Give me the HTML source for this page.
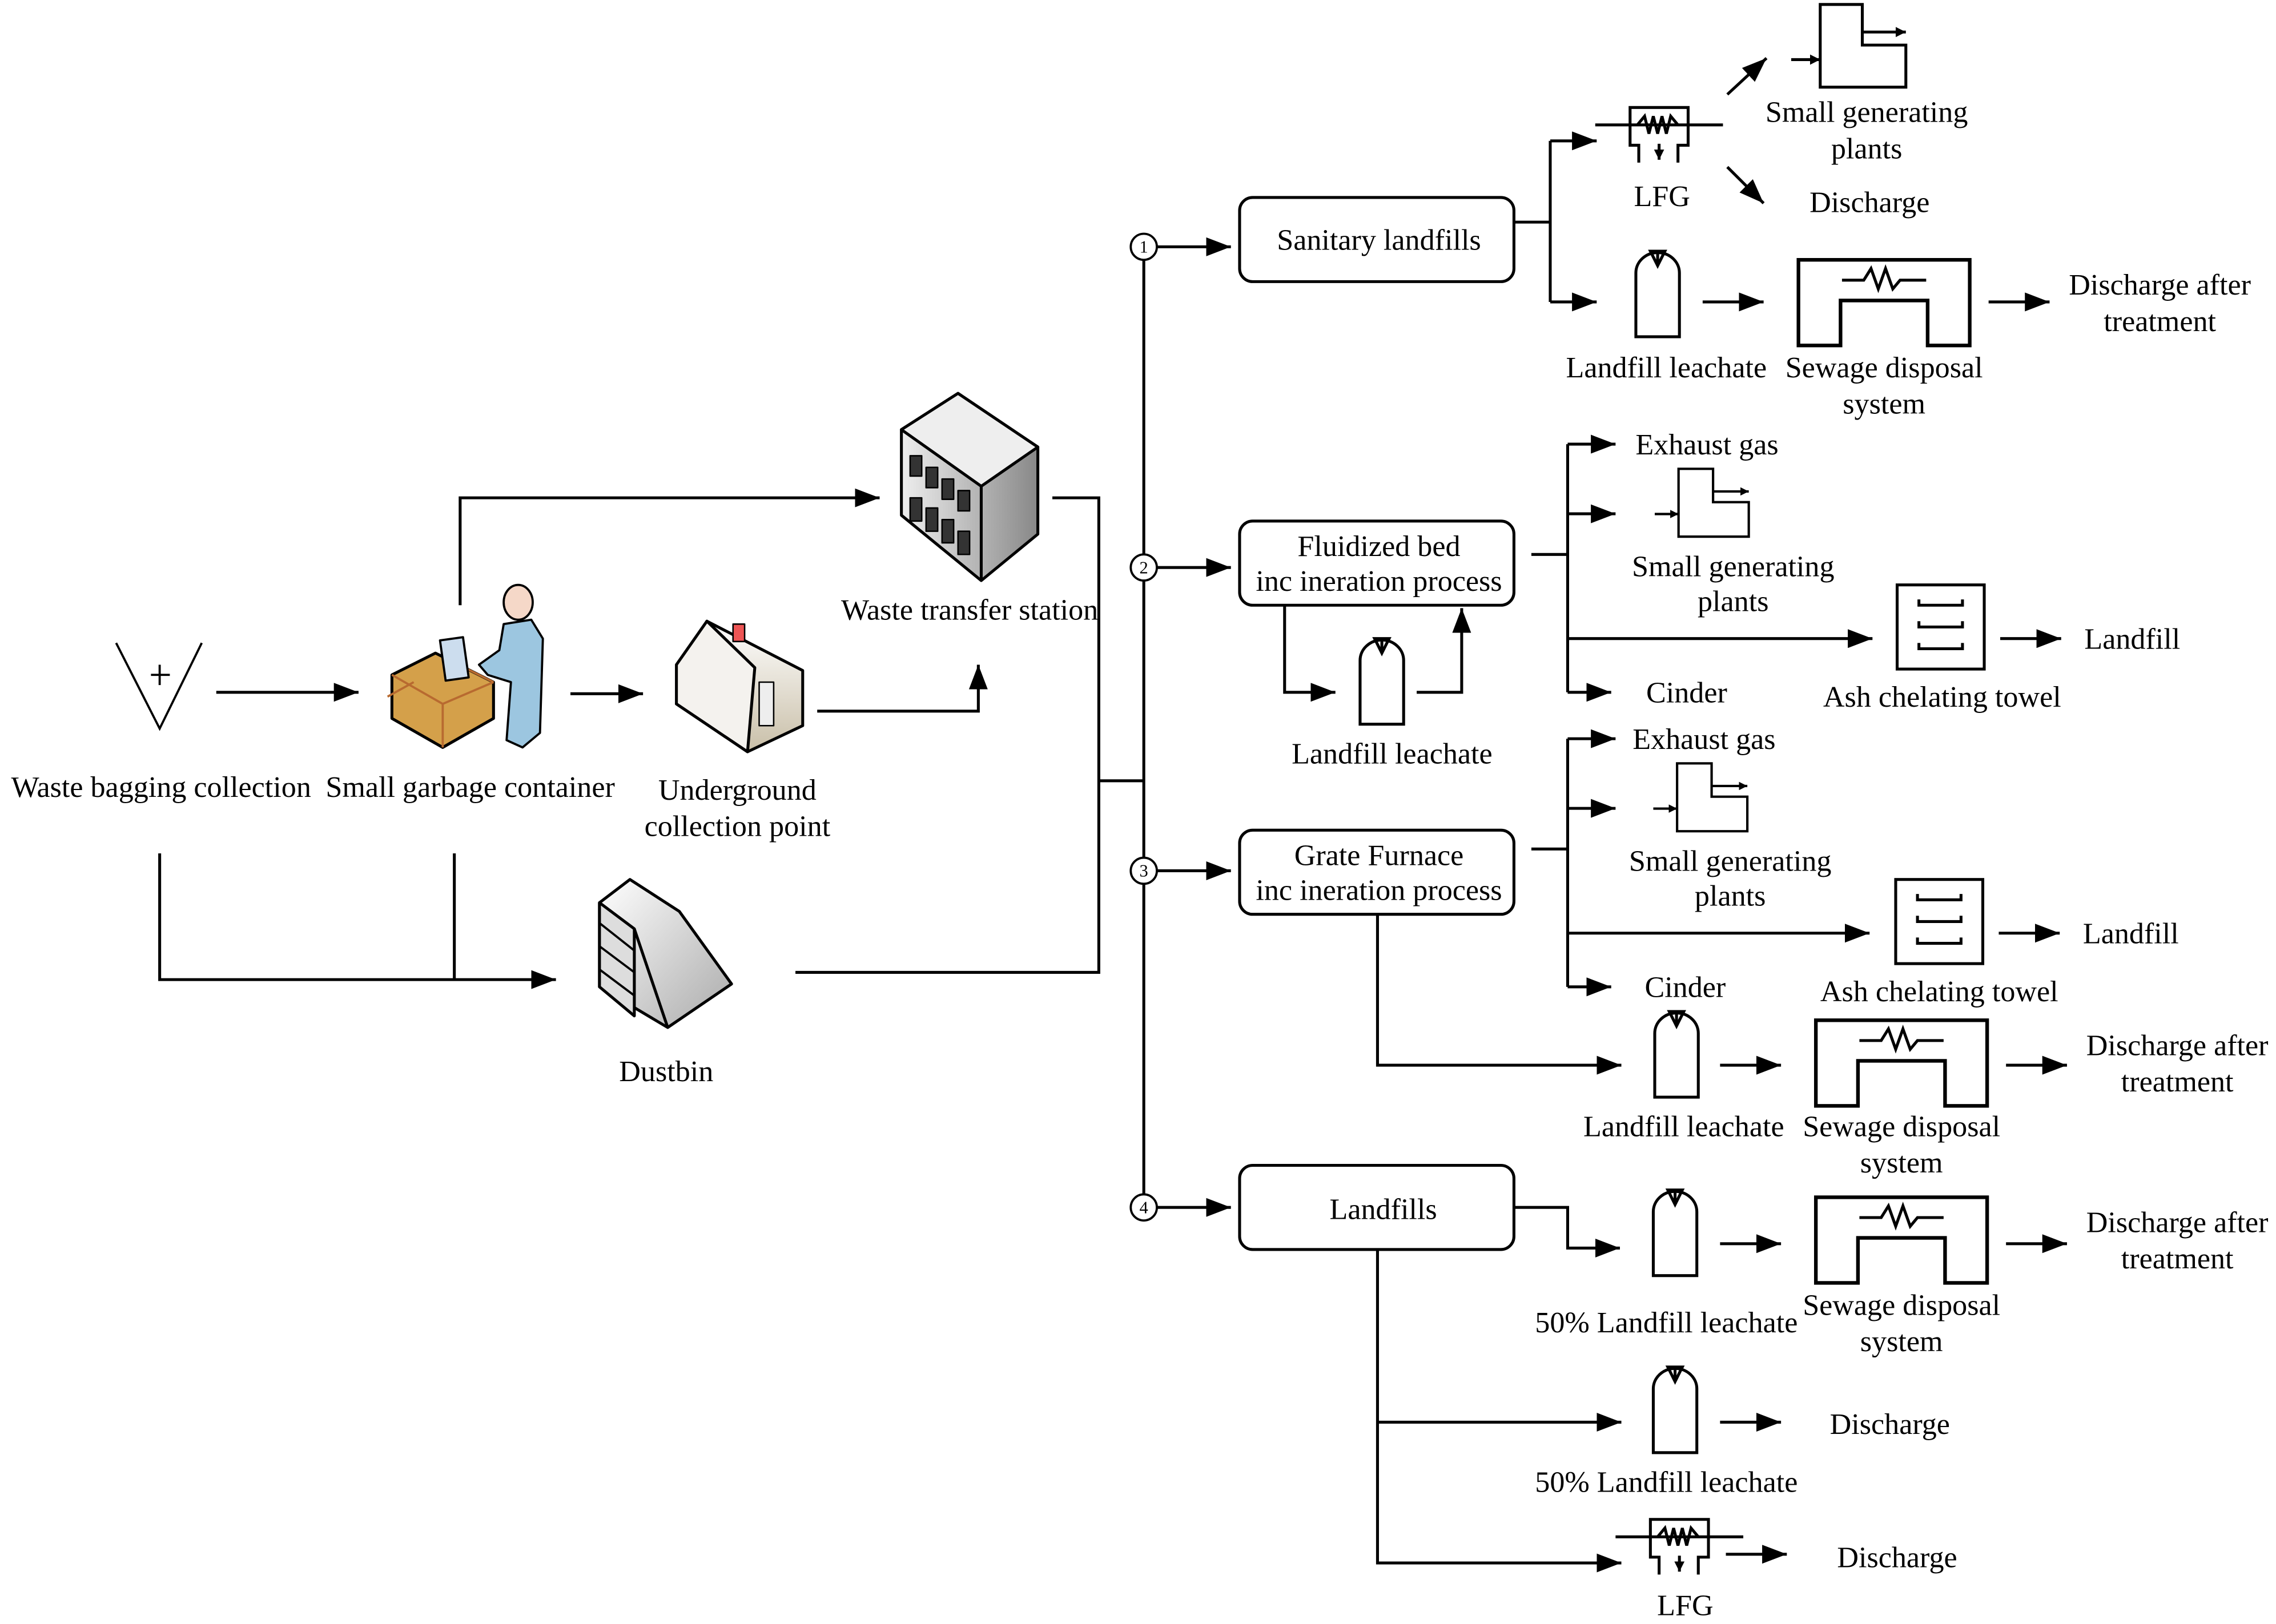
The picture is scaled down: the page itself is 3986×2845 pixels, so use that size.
<!DOCTYPE html>
<html><head><meta charset="utf-8"><style>
html,body{margin:0;padding:0;background:#fff;}
svg{display:block;}
text{font-family:"Liberation Serif",serif;font-size:20.5px;fill:#000;text-anchor:middle;}
</style></head><body>
<svg width="3986" height="2845" viewBox="0 0 1568 1119" xmlns="http://www.w3.org/2000/svg">
<defs>
<marker id="a" viewBox="0 0 10 10" refX="10" refY="5" markerWidth="7" markerHeight="7" markerUnits="userSpaceOnUse" orient="auto"><path d="M0,0L10,5L0,10z" fill="#000"/></marker>
<marker id="A" viewBox="0 0 10 10" refX="10" refY="5" markerWidth="17" markerHeight="13" markerUnits="userSpaceOnUse" orient="auto" preserveAspectRatio="none"><path d="M0,0L10,5L0,10z" fill="#000"/></marker>
<linearGradient id="g1" x1="0" y1="0" x2="1" y2="1"><stop offset="0" stop-color="#fff"/><stop offset="1" stop-color="#aaa"/></linearGradient>
<linearGradient id="g2" x1="0" y1="0" x2="1" y2="0"><stop offset="0" stop-color="#eee"/><stop offset="1" stop-color="#888"/></linearGradient>
<linearGradient id="g3" x1="0" y1="0" x2="0" y2="1"><stop offset="0" stop-color="#fff"/><stop offset="1" stop-color="#c9bfa8"/></linearGradient>
<g id="bottle" fill="none" stroke="#000" stroke-width="2"><path d="M0,59V15A15,14 0 0 1 30,15V59Z" fill="#fff"/><path d="M10,0H20L15,10Z M15,10V1"/></g>
<g id="sew" fill="none" stroke="#000" stroke-width="2.5"><path d="M0,59V0H118V59H89V28H29V59Z" fill="#fff"/><path d="M30,14H45L50,6L55,20L60,6L65,20L70,14H88" stroke-width="2"/></g>
<g id="gen" fill="none" stroke="#000" stroke-width="2"><path d="M20,0H49V28H79V57H20Z" fill="#fff"/><path d="M49,19H79" marker-end="url(#a)"/><path d="M0,38H20" marker-end="url(#a)"/></g>
<g id="ash" fill="none" stroke="#000" stroke-width="2"><rect x="0" y="0" width="60" height="58" fill="#fff"/><path d="M15,10V14H45V10M15,25V29H45V25M15,40V44H45V40"/></g>
<g id="lfg" fill="none" stroke="#000" stroke-width="2"><path d="M6,38V26H0V0H40V26H33V38" fill="#fff"/><path d="M-24,12H64"/><path d="M5,12L10,6L13,18L16,6L19,18L22,6L25,18L28,6L33,12"/><path d="M20,25V36" marker-end="url(#a)"/></g>
</defs>
<g fill="none" stroke="#000" stroke-width="2">
<path d="M80,443L110,502L139,443" stroke-width="1.5"/><path d="M104,465H117M110,458V472" stroke-width="1.5"/>
<path d="M149,477H247" marker-end="url(#A)"/>
<path d="M393,478H443" marker-end="url(#A)"/>
<path d="M563,490H674V458" marker-end="url(#A)"/>
<path d="M317,417V343H606" marker-end="url(#A)"/>
<path d="M725,343H757V670H548"/>
<path d="M757,538H788"/>
<path d="M110,588V675H383" marker-end="url(#A)"/><path d="M313,588V675"/>
<path d="M788,170V832"/>
<path d="M797,170H848" marker-end="url(#A)"/><path d="M797,391H848" marker-end="url(#A)"/>
<path d="M797,600H848" marker-end="url(#A)"/><path d="M797,832H848" marker-end="url(#A)"/>
<rect x="854" y="136" width="189" height="58" rx="9"/>
<rect x="854" y="359" width="189" height="58" rx="9"/>
<rect x="854" y="572" width="189" height="58" rx="9"/>
<rect x="854" y="803" width="189" height="58" rx="9"/>
<path d="M1043,153H1068M1068,97V208"/>
<path d="M1068,97H1100" marker-end="url(#A)"/><path d="M1068,208H1100" marker-end="url(#A)"/>
<path d="M1190,65L1217,40" marker-end="url(#A)"/><path d="M1190,115L1215,140" marker-end="url(#A)"/>
<path d="M1173,208H1215" marker-end="url(#A)"/><path d="M1370,208H1412" marker-end="url(#A)"/>
<path d="M1055,382H1080M1080,306V477"/>
<path d="M1080,306H1113" marker-end="url(#A)"/><path d="M1080,354H1113" marker-end="url(#A)"/>
<path d="M1080,440H1290" marker-end="url(#A)"/><path d="M1080,477H1110" marker-end="url(#A)"/>
<path d="M1378,440H1420" marker-end="url(#A)"/>
<path d="M885,417V477H920" marker-end="url(#A)"/><path d="M976,477H1007V419" marker-end="url(#A)"/>
<path d="M1055,585H1080M1080,509V680"/>
<path d="M1080,509H1113" marker-end="url(#A)"/><path d="M1080,557H1113" marker-end="url(#A)"/>
<path d="M1080,643H1288" marker-end="url(#A)"/><path d="M1080,680H1110" marker-end="url(#A)"/>
<path d="M1377,643H1419" marker-end="url(#A)"/>
<path d="M949,630V734H1117" marker-end="url(#A)"/>
<path d="M1185,734H1227" marker-end="url(#A)"/><path d="M1382,734H1424" marker-end="url(#A)"/>
<path d="M1043,832H1080V860H1116" marker-end="url(#A)"/>
<path d="M1185,857H1227" marker-end="url(#A)"/><path d="M1382,857H1424" marker-end="url(#A)"/>
<path d="M949,861V1077H1117" marker-end="url(#A)"/><path d="M949,980H1117" marker-end="url(#A)"/>
<path d="M1185,980H1227" marker-end="url(#A)"/><path d="M1189,1071H1231" marker-end="url(#A)"/>
</g>
<g fill="#fff" stroke="#000" stroke-width="1.5">
<circle cx="788" cy="170" r="9"/><circle cx="788" cy="391" r="9"/><circle cx="788" cy="600" r="9"/><circle cx="788" cy="832" r="9"/>
</g>
<g style="font-size:12px"><text x="788" y="174" style="font-size:12px">1</text><text x="788" y="395" style="font-size:12px">2</text><text x="788" y="604" style="font-size:12px">3</text><text x="788" y="836" style="font-size:12px">4</text></g>
<use href="#lfg" x="1123" y="74"/>
<use href="#gen" x="1234" y="3"/>
<use href="#bottle" x="1127" y="173"/>
<use href="#sew" x="1239" y="179"/>
<use href="#gen" transform="translate(1140,323) scale(0.82)"/>
<use href="#ash" x="1307" y="403"/>
<use href="#bottle" x="937" y="440"/>
<use href="#gen" transform="translate(1139,526) scale(0.82)"/>
<use href="#ash" x="1306" y="606"/>
<use href="#bottle" x="1140" y="697"/>
<use href="#sew" x="1251" y="703"/>
<use href="#bottle" x="1139" y="820"/>
<use href="#sew" x="1251" y="825"/>
<use href="#bottle" x="1139" y="942"/>
<use href="#lfg" x="1137" y="1047"/>
<g stroke="#000" stroke-width="2" stroke-linejoin="round">
<path d="M621,296L660,271L715,308V368L676,400L621,355Z" fill="url(#g2)"/>
<path d="M621,296L660,271L715,308L676,335Z" fill="#eee"/>
<path d="M676,335V400" fill="none"/>
<g fill="#333" stroke-width="1"><rect x="627" y="314" width="8" height="14"/><rect x="638" y="322" width="8" height="14"/><rect x="649" y="330" width="8" height="14"/><rect x="660" y="338" width="8" height="14"/><rect x="627" y="343" width="8" height="16"/><rect x="638" y="350" width="8" height="16"/><rect x="649" y="358" width="8" height="16"/><rect x="660" y="366" width="8" height="16"/></g>
<path d="M470,460L487,428L553,462V500L515,518L466,485Z" fill="url(#g3)"/>
<path d="M487,428L520,460L515,518L466,485V458Z" fill="#f4f2ee"/>
<rect x="505" y="430" width="8" height="12" fill="#e55" stroke-width="1"/>
<rect x="523" y="470" width="10" height="30" fill="#eee" stroke-width="1"/>
<path d="M413,622L434,606L468,628L504,678L460,708L413,680Z" fill="url(#g1)"/>
<path d="M413,622V680L437,700V640Z" fill="#ddd"/>
<path d="M437,640L460,708" fill="none"/>
<path d="M413,636L437,655M413,652L437,670M413,668L437,686" fill="none" stroke-width="1.5"/>
<path d="M270,465L300,450L340,470L340,495L305,515L270,495Z" fill="#d4a04a"/>
<path d="M270,465L305,485L340,470M305,485V515" fill="none" stroke="#b86a30" stroke-width="1.5"/>
<path d="M267,480L285,470M320,460L340,470" fill="none" stroke="#b86a30" stroke-width="1.5"/>
<rect x="305" y="440" width="16" height="28" fill="#cde" stroke-width="1.5" transform="rotate(-8 313 454)"/>
<ellipse cx="357" cy="415" rx="10" ry="12" fill="#f5d8c8" stroke-width="1.5"/>
<path d="M347,430L366,427L374,440L372,505L360,515L349,510L352,470L336,465L330,458L344,448Z" fill="#9cc6e0" stroke-width="1.5"/>
</g>
<text x="111" y="549">Waste bagging collection</text>
<text x="324" y="549">Small garbage container</text>
<text x="508" y="551">Underground</text><text x="508" y="576">collection point</text>
<text x="668" y="427">Waste transfer station</text>
<text x="459" y="745">Dustbin</text>
<text x="950" y="172">Sanitary landfills</text>
<text x="950" y="383">Fluidized bed</text><text x="950" y="407">inc ineration process</text>
<text x="950" y="596">Grate Furnace</text><text x="950" y="620">inc ineration process</text>
<text x="953" y="840">Landfills</text>
<text x="1286" y="84">Small generating</text><text x="1286" y="109">plants</text>
<text x="1145" y="142">LFG</text><text x="1288" y="146">Discharge</text>
<text x="1148" y="260">Landfill leachate</text>
<text x="1298" y="260">Sewage disposal</text><text x="1298" y="285">system</text>
<text x="1488" y="203">Discharge after</text><text x="1488" y="228">treatment</text>
<text x="1176" y="313">Exhaust gas</text>
<text x="1194" y="397">Small generating</text><text x="1194" y="421">plants</text>
<text x="1469" y="447">Landfill</text>
<text x="1162" y="484">Cinder</text><text x="1338" y="487">Ash chelating towel</text>
<text x="959" y="526">Landfill leachate</text>
<text x="1174" y="516">Exhaust gas</text>
<text x="1192" y="600">Small generating</text><text x="1192" y="624">plants</text>
<text x="1468" y="650">Landfill</text>
<text x="1161" y="687">Cinder</text><text x="1336" y="690">Ash chelating towel</text>
<text x="1160" y="783">Landfill leachate</text>
<text x="1310" y="783">Sewage disposal</text><text x="1310" y="808">system</text>
<text x="1500" y="727">Discharge after</text><text x="1500" y="752">treatment</text>
<text x="1148" y="918">50% Landfill leachate</text>
<text x="1310" y="906">Sewage disposal</text><text x="1310" y="931">system</text>
<text x="1500" y="849">Discharge after</text><text x="1500" y="874">treatment</text>
<text x="1302" y="988">Discharge</text>
<text x="1148" y="1028">50% Landfill leachate</text>
<text x="1307" y="1080">Discharge</text>
<text x="1161" y="1113">LFG</text>
</svg>
</body></html>
